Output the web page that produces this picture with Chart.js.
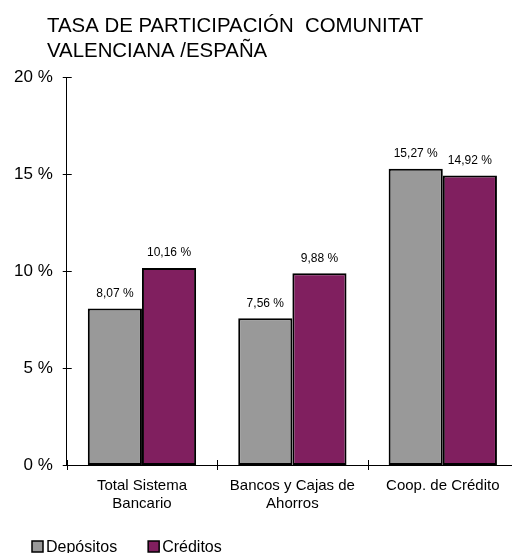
<!DOCTYPE html>
<html>
<head>
<meta charset="utf-8">
<script src="https://cdn.jsdelivr.net/npm/chart.js@4/dist/chart.umd.min.js"></script>
<style>
  html, body { margin: 0; padding: 0; background: #fff; overflow: hidden; }
  #wrap { position: absolute; left: 0; top: 0; width: 530px; height: 553px; }
</style>
</head>
<body>
<div id="wrap"><canvas id="chart"></canvas></div>
<script>
const titleLines = ['TASA DE PARTICIPACIÓN  COMUNITAT', 'VALENCIANA /ESPAÑA'];
const categories = [['Total Sistema', 'Bancario'], ['Bancos y Cajas de', 'Ahorros'], 'Coop. de Crédito'];
const depositos = [8.07, 7.56, 15.27];
const creditos = [10.16, 9.88, 14.92];
const yTicks = [0, 5, 10, 15, 20];

const FONT = 'Arial, "Liberation Sans", sans-serif';

function pct(v) {
    return v.toFixed(2).replace('.', ',') + ' %';
}

// title drawn at a fixed left offset, like the original
const titlePlugin = {
    id: 'leftTitle',
    afterDraw(chart) {
        const ctx = chart.ctx;
        ctx.save();
        ctx.fillStyle = '#000';
        ctx.font = '20.4px ' + FONT;
        ctx.textBaseline = 'alphabetic';
        ctx.fillText(titleLines[0], 47, 32);
        ctx.fillText(titleLines[1], 47, 57);
        ctx.restore();
    }
};

// tick marks crossing both axes
const crossTicks = {
    id: 'crossTicks',
    afterDraw(chart) {
        const ctx = chart.ctx;
        const area = chart.chartArea;
        const x = chart.scales.x;
        const y = chart.scales.y;
        ctx.save();
        ctx.strokeStyle = '#000';
        ctx.lineWidth = 1;
        ctx.beginPath();
        y.ticks.forEach(t => {
            const py = Math.round(y.getPixelForValue(t.value)) + 0.5;
            ctx.moveTo(area.left - 4, py);
            ctx.lineTo(area.left + 5, py);
        });
        const half = (x.getPixelForValue(1) - x.getPixelForValue(0)) / 2;
        for (let i = 0; i <= categories.length; i++) {
            const px = Math.round(x.getPixelForValue(i) - half) + 0.5;
            ctx.moveTo(px, area.bottom - 5);
            ctx.lineTo(px, area.bottom + 5);
        }
        ctx.stroke();
        ctx.restore();
    }
};

const valueLabels = {
    id: 'valueLabels',
    afterDatasetsDraw(chart) {
        const ctx = chart.ctx;
        ctx.save();
        ctx.fillStyle = '#000';
        ctx.font = '12px ' + FONT;
        ctx.textAlign = 'center';
        ctx.textBaseline = 'bottom';
        chart.data.datasets.forEach((ds, di) => {
            chart.getDatasetMeta(di).data.forEach((bar, i) => {
                ctx.fillText(pct(ds.data[i]), bar.x, bar.y - 9);
            });
        });
        ctx.restore();
    }
};

const bottomLegend = {
    id: 'bottomLegend',
    afterDraw(chart) {
        const ctx = chart.ctx;
        ctx.save();
        ctx.font = '16px ' + FONT;
        ctx.textBaseline = 'alphabetic';
        let lx = 32;
        chart.data.datasets.forEach(ds => {
            ctx.fillStyle = ds.backgroundColor;
            ctx.fillRect(lx, 541, 11, 11);
            ctx.strokeStyle = '#000';
            ctx.lineWidth = 1.5;
            ctx.strokeRect(lx, 541, 11, 11);
            ctx.fillStyle = '#000';
            ctx.fillText(ds.label, lx + 14, 552);
            lx += 14 + ctx.measureText(ds.label).width + 31;
        });
        ctx.restore();
    }
};

new Chart(document.getElementById('chart'), {
    type: 'bar',
    data: {
        labels: categories,
        datasets: [
            {
                label: 'Depósitos',
                data: depositos,
                backgroundColor: '#999999',
                borderColor: '#000000',
                borderWidth: 2,
                borderSkipped: false
            },
            {
                label: 'Créditos',
                data: creditos,
                backgroundColor: '#801f5f',
                borderColor: '#000000',
                borderWidth: 2,
                borderSkipped: false
            }
        ]
    },
    options: {
        responsive: true,
        maintainAspectRatio: false,
        animation: false,
        categoryPercentage: 0.72,
        barPercentage: 1.0,
        layout: {
            padding: { top: 77, left: 0, right: 12, bottom: 28 }
        },
        plugins: {
            legend: { display: false },
            title: { display: false },
            tooltip: { enabled: false }
        },
        scales: {
            x: {
                grid: { display: false, drawTicks: false },
                border: { display: true, color: '#000', width: 1 },
                ticks: {
                    color: '#000',
                    padding: 12,
                    maxRotation: 0,
                    autoSkip: false,
                    font: { family: FONT, size: 15 }
                }
            },
            y: {
                min: 0,
                max: 20,
                afterBuildTicks(scale) {
                    scale.ticks = yTicks.map(v => ({ value: v }));
                },
                grid: { display: false, drawTicks: false },
                border: { display: true, color: '#000', width: 1 },
                ticks: {
                    color: '#000',
                    padding: 14,
                    font: { family: FONT, size: 17 },
                    callback: v => v + ' %'
                }
            }
        }
    },
    plugins: [titlePlugin, crossTicks, valueLabels, bottomLegend]
});
</script>
</body>
</html>
